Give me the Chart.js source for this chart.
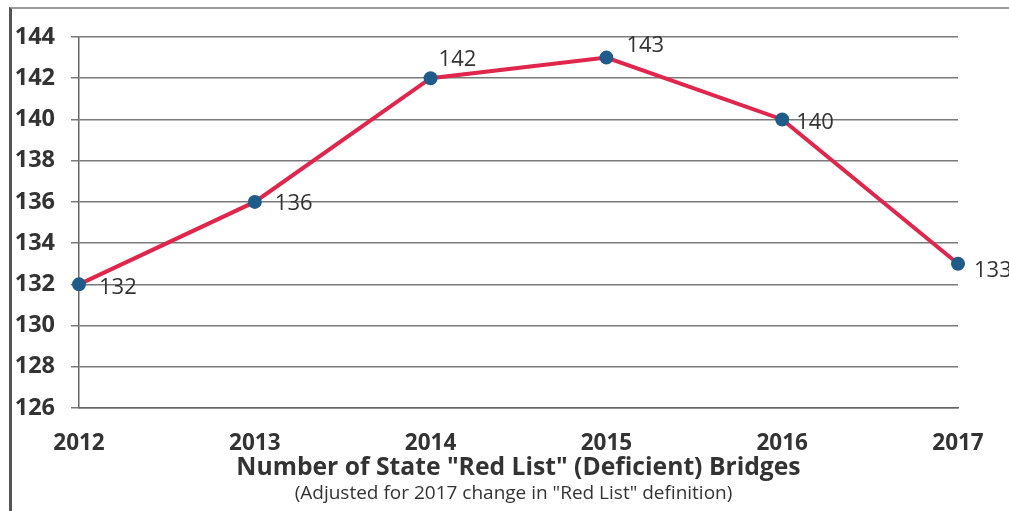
<!DOCTYPE html>
<html>
<head>
<meta charset="utf-8">
<script src="https://cdn.jsdelivr.net/npm/chart.js@4.4.1/dist/chart.umd.min.js"></script>
<style>
  html, body { margin: 0; padding: 0; background: #fff; }
  #wrap { position: relative; width: 1009px; height: 511px; }
  #frame { position: absolute; left: 9px; top: 7px; width: 1000px; height: 504px;
           border-top: 2px solid #9a9a9a; border-left: 3px solid #555; box-sizing: border-box; }
  canvas { position: absolute; left: 0; top: 0; }
</style>
</head>
<body>
<div id="wrap">
  <div id="frame"></div>
  <canvas id="chartCanvas" width="1009" height="511"></canvas>
</div>
<script>
// 数据
const years = ["2012", "2013", "2014", "2015", "2016", "2017"];
const redListBridges = [132, 136, 142, 143, 140, 133];
const yTicks = [126, 128, 130, 132, 134, 136, 138, 140, 142, 144];

const FONT = "'Open Sans', Lato, sans-serif";
const TEXT = "#333";
const SUBTITLE = '(Adjusted for 2017 change in "Red List" definition)';

// label offset relative to point (dx, dy)
const LABEL_OFFSET = [[20, 3], [20, 2], [8, -18], [20, -12], [14, 3], [16, 7]];

const pointLabels = {
  id: "pointLabels",
  afterDatasetsDraw(chart) {
    const c = chart.ctx;
    const meta = chart.getDatasetMeta(0);
    c.save();
    c.font = "22px " + FONT;
    c.fillStyle = TEXT;
    c.textBaseline = "middle";
    c.textAlign = "left";
    meta.data.forEach((pt, i) => {
      const off = LABEL_OFFSET[i];
      c.fillText(String(redListBridges[i]), pt.x + off[0], pt.y + off[1]);
    });
    c.restore();
  }
};

// subtitle centred under the plot area
const subTitle = {
  id: "subTitle",
  afterDraw(chart) {
    const c = chart.ctx;
    const a = chart.chartArea;
    c.save();
    c.font = "19px " + FONT;
    c.fillStyle = TEXT;
    c.textAlign = "center";
    c.textBaseline = "middle";
    c.fillText(SUBTITLE, (a.left + a.right) / 2 - 5, 494);
    c.restore();
  }
};

const ctx = document.getElementById("chartCanvas").getContext("2d");

new Chart(ctx, {
  type: "line",
  data: {
    labels: years,
    datasets: [{
      data: redListBridges,
      borderColor: "#e0264c",
      borderWidth: 4,
      pointBackgroundColor: "#1f5c8a",
      pointBorderColor: "#1f5c8a",
      pointRadius: 5,
      tension: 0
    }]
  },
  options: {
    responsive: false,
    animation: false,
    layout: { padding: { left: 0, right: 51, top: 37, bottom: 29 } },
    plugins: {
      legend: { display: false },
      tooltip: { enabled: false }
    },
    scales: {
      x: {
        offset: false,
        afterFit(scale) { scale.height = 74; },
        grid: { display: false, drawOnChartArea: false },
        border: { color: "#666", width: 1.5 },
        ticks: {
          color: TEXT,
          font: { family: FONT, size: 22.5, weight: "bold" },
          padding: 14
        },
        title: {
          display: true,
          text: 'Number of State "Red List" (Deficient) Bridges',
          color: TEXT,
          font: { family: FONT, size: 24.7, weight: "bold" },
          padding: { top: 0, bottom: -1 }
        }
      },
      y: {
        min: 126,
        max: 144,
        afterFit(scale) { scale.width = 79; },
        afterBuildTicks(scale) { scale.ticks = yTicks.map(v => ({ value: v })); },
        grid: { color: "#7a7a7a", lineWidth: 1.5, tickLength: 8 },
        border: { color: "#666", width: 1.5 },
        ticks: {
          color: TEXT,
          font: { family: FONT, size: 23.5, weight: "bold" },
          padding: 16
        }
      }
    }
  },
  plugins: [pointLabels, subTitle]
});
</script>
</body>
</html>
